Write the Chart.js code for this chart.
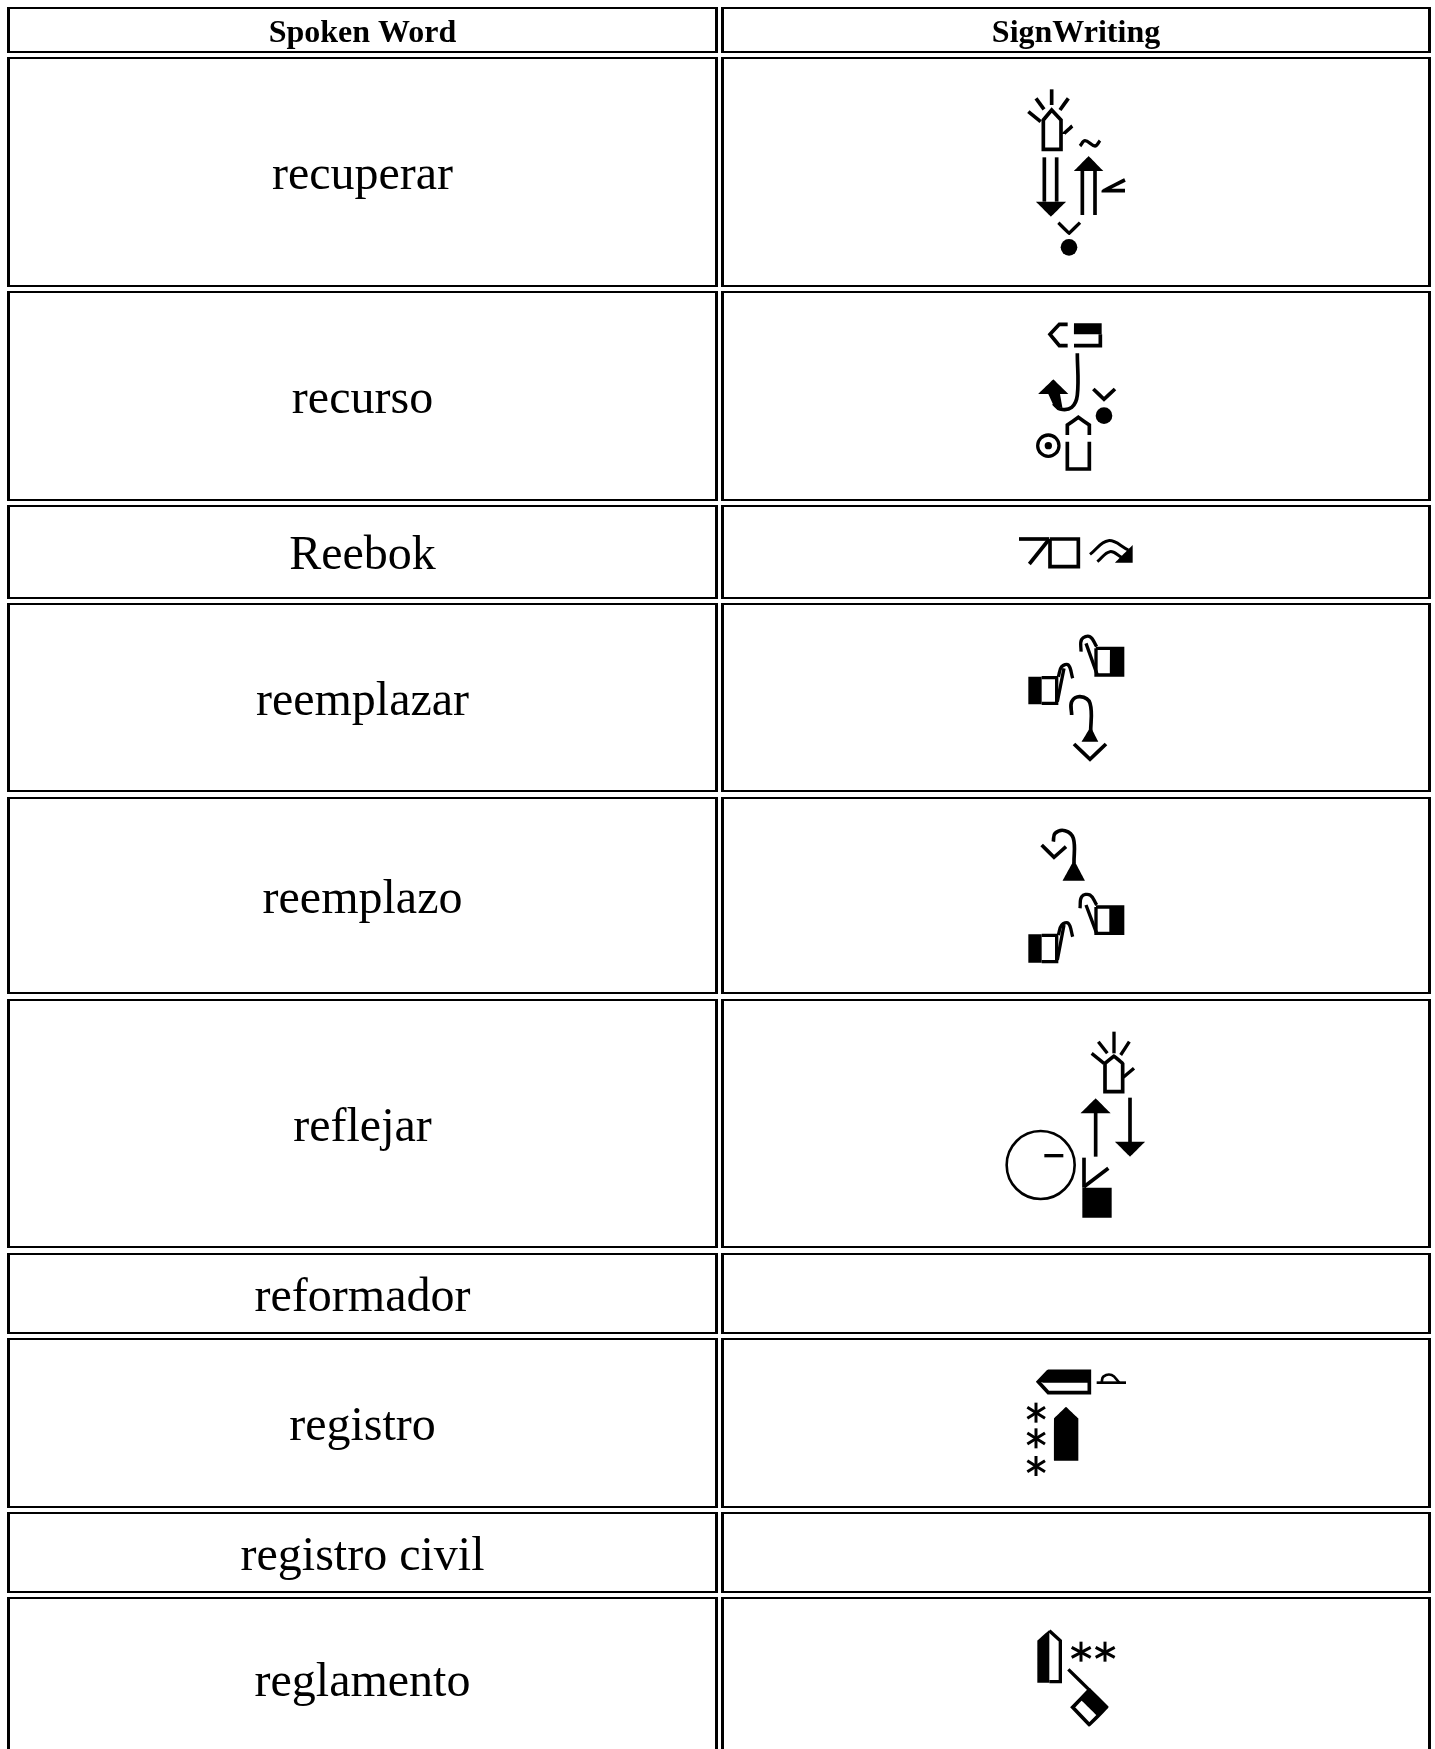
<!DOCTYPE html>
<html>
<head>
<meta charset="utf-8">
<title>SignWriting</title>
<style>
html, body { margin: 0; padding: 0; background: #fff; overflow: hidden; }
canvas { display: block; }
</style>
<script src="https://cdn.jsdelivr.net/npm/chart.js@4"></script>
</head>
<body>
<canvas id="signChart" width="1435" height="1749"></canvas>
<script>
// table content
const headers = ['Spoken Word', 'SignWriting'];
const words = ['recuperar', 'recurso', 'Reebok', 'reemplazar', 'reemplazo', 'reflejar', 'reformador', 'registro', 'registro civil', 'reglamento'];

// table edges (first entry of the rows is the header)
const colLeft = [7, 721];
const colRight = [718, 1431];
const rowTop = [7, 57, 291, 505, 603, 797, 999, 1253, 1338, 1512, 1597];
const rowBottom = [53, 287, 501, 599, 792, 994, 1248, 1334, 1508, 1593, 1800];

// glyph marks are written in thirds of a pixel from an origin, same as the 3x crops
const line = (w, ...pts) => ({ kind: 'line', w, pts });
const curve = (w, ...pts) => ({ kind: 'curve', w, pts });
const solid = (...pts) => ({ kind: 'solid', pts });
const disc = (x, y, r) => ({ kind: 'disc', pts: [x, y], r });
const ring = (x, y, r, w) => ({ kind: 'ring', pts: [x, y], r, w });

const toPoints = (ox, oy, pts) => {
    let out = [];
    for (let i = 0; i < pts.length; i += 2) {
        out.push({ x: ox + pts[i] / 3, y: oy + pts[i + 1] / 3 });
    }
    return out;
};

const signRecuperar = [1000, 70, [
    line(8, 130,238, 130,150, 155,120, 183,150, 183,238, 130,238, 130,150),
    line(8, 155,58, 155,105), line(8, 108,85, 132,118), line(8, 205,85, 180,120),
    line(8, 85,125, 122,155), line(8, 217,168, 190,192),
    curve(7, 240,228, 255,212, 285,228, 300,212),
    line(8, 133,262, 133,395), line(8, 170,262, 170,395), solid(108,395, 198,395, 153,440, 108,395),
    line(8, 247,300, 247,435), line(8, 285,300, 285,435), solid(222,303, 310,303, 266,258, 222,303),
    line(8, 375,330, 310,362, 375,362),
    line(7, 175,458, 207,490, 240,458),
    disc(207,532,25)
]];

const signRecurso = [1000, 310, [
    line(8, 203,43, 178,43, 150,73, 178,107, 203,107),
    solid(222,40, 305,40, 305,73, 222,73, 222,40),
    line(8, 222,107, 301,107, 301,73),
    curve(8, 232,130, 232,255, 215,292, 180,297, 160,280),
    solid(115,252, 160,208, 205,252, 180,252, 188,295, 160,285, 145,252, 115,252),
    line(8, 280,237, 312,268, 345,237),
    disc(312,317,25),
    line(8, 202,375, 202,345, 235,322, 268,345, 268,375),
    line(8, 202,395, 202,477, 268,477, 268,395),
    ring(145,407,32,8),
    disc(145,407,11)
]];

const signReebok = [1000, 520, [
    line(8, 57,57, 148,57), line(8, 148,57, 88,132),
    line(8, 150,57, 235,57, 235,140, 150,140, 150,57),
    curve(6, 270,103, 325,62, 385,90),
    curve(6, 292,125, 330,95, 365,112),
    solid(398,75, 398,128, 345,128, 398,75)
]];

const signReemplazar = [1000, 520, [
    line(7, 288,385, 368,385, 368,465, 288,465, 288,385),
    solid(330,382, 372,382, 372,467, 330,467, 330,382),
    curve(7, 243,395, 245,358, 270,350, 290,380),
    line(7, 258,370, 292,465),
    line(7, 125,473, 170,473, 170,550, 125,550),
    solid(85,470, 125,470, 125,553, 85,553, 85,470),
    line(7, 172,545, 192,445),
    curve(7, 175,470, 185,440, 205,435, 218,475),
    curve(8, 215,585, 215,545, 240,530, 270,550, 272,640),
    solid(245,665, 295,665, 272,620, 245,665),
    line(8, 222,672, 270,718, 318,672)
]];

const signReemplazo = [1000, 810, [
    curve(8, 160,95, 165,70, 195,62, 220,85, 222,160),
    solid(188,212, 255,212, 222,150, 188,212),
    line(8, 125,105, 162,142, 198,110),
    line(7, 288,291, 368,291, 368,370, 288,370, 288,291),
    solid(328,288, 372,288, 372,373, 328,373, 328,288),
    curve(7, 240,295, 245,260, 270,255, 290,285),
    line(7, 258,285, 290,370),
    line(7, 125,376, 170,376, 170,455, 125,455),
    solid(85,373, 125,373, 125,458, 85,458, 85,373),
    curve(7, 175,375, 185,345, 205,340, 218,380),
    line(7, 172,450, 192,345)
]];

const signReflejar = [990, 1020, [
    line(8, 345,215, 345,130, 372,108, 398,130, 398,215, 345,215, 345,130),
    line(7, 372,35, 372,100), line(7, 325,65, 352,100), line(7, 418,65, 392,105),
    line(7, 305,100, 342,130), line(7, 432,145, 400,172),
    line(8, 317,270, 317,410), solid(272,280, 362,280, 317,235, 272,280),
    line(8, 420,233, 420,370), solid(375,365, 465,365, 420,410, 375,365),
    ring(152,435,102,6),
    line(7, 163,407, 220,407),
    line(8, 282,413, 282,503), line(8, 282,500, 355,445),
    solid(277,503, 365,503, 365,593, 277,593, 277,503)
]];

const signRegistro = [1000, 1330, [
    line(8, 115,155, 145,124, 268,124, 268,188, 145,188, 115,155, 145,124),
    solid(145,122, 270,122, 270,158, 130,158, 115,155, 145,122),
    line(5, 290,158, 378,158),
    curve(5, 305,158, 310,140, 335,135, 358,158),
    line(6, 108,218, 108,278), line(6, 82,232, 135,265), line(6, 82,265, 135,232),
    line(6, 108,295, 108,355), line(6, 82,309, 135,342), line(6, 82,342, 135,309),
    line(6, 108,378, 108,438), line(6, 82,392, 135,425), line(6, 82,425, 135,392),
    solid(162,392, 162,265, 198,230, 235,265, 235,392, 162,392)
]];

const signReglamento = [1000, 1620, [
    line(7, 148,32, 181,62, 181,185, 148,185),
    solid(112,188, 112,62, 148,30, 148,188, 112,188),
    line(6, 243,65, 243,125), line(6, 215,82, 272,112), line(6, 215,112, 272,82),
    line(6, 315,65, 315,125), line(6, 287,82, 344,112), line(6, 287,112, 344,82),
    line(7, 205,148, 270,212),
    solid(240,237, 268,208, 322,262, 294,290, 240,237),
    line(8, 218,262, 268,210, 320,262, 268,314, 218,262, 268,210)
]];

const signs = [signRecuperar, signRecurso, signReebok, signReemplazar, signReemplazo, signReflejar, signRegistro, signReglamento];

const INK = '#000';
let datasets = [];

const edge = (x0, y0, x1, y1, w) => ({
    data: [{x:x0,y:y0},{x:x1,y:y1}],
    borderColor: INK, borderWidth: w, pointRadius: 0, fill: false, tension: 0.00001
});

// cell borders, the picture has them 3px wide upright and 2px wide across
rowTop.forEach((top, r) => {
    colLeft.forEach((left, c) => {
        const right = colRight[c], bottom = rowBottom[r];
        datasets.push(edge(left, top + 1, right, top + 1, 2));
        datasets.push(edge(left, bottom - 1, right, bottom - 1, 2));
        datasets.push(edge(left + 1.5, top, left + 1.5, bottom, 3));
        datasets.push(edge(right - 1.5, top, right - 1.5, bottom, 3));
    });
});

// the glyphs
signs.forEach(([ox, oy, marks]) => {
    marks.forEach(m => {
        const data = toPoints(ox, oy, m.pts);
        if (m.kind === 'line' || m.kind === 'curve') {
            datasets.push({
                data, borderColor: INK, borderWidth: m.w / 3 + 1, pointRadius: 0, fill: false,
                tension: m.kind === 'curve' ? 0.4 : 0.00001, borderJoinStyle: 'miter'
            });
        } else if (m.kind === 'solid') {
            datasets.push({
                data, borderWidth: 0, pointRadius: 0, fill: 'shape', backgroundColor: INK,
                tension: 0.00001
            });
        } else {
            datasets.push({
                data, showLine: false,
                pointRadius: m.r / 3, pointStyle: 'circle',
                pointBackgroundColor: m.kind === 'disc' ? INK : 'rgba(0,0,0,0)',
                pointBorderColor: INK, pointBorderWidth: m.kind === 'disc' ? 0 : m.w / 3 + 0.6
            });
        }
    });
});

// words are text in the cells, placed through the scales
const cellText = {
    id: 'cellText',
    afterDatasetsDraw(chart) {
        const { ctx, scales: { x, y } } = chart;
        const put = (text, col, row, size, weight) => {
            const px = x.getPixelForValue((colLeft[col] + colRight[col]) / 2);
            const py = y.getPixelForValue((rowTop[row] + rowBottom[row]) / 2 + 1);
            ctx.font = `${weight} ${size}px "Liberation Serif"`;
            ctx.fillText(text, px, py + size * 0.3375);
        };
        ctx.save();
        ctx.fillStyle = INK;
        ctx.textAlign = 'center';
        ctx.textBaseline = 'alphabetic';
        headers.forEach((h, c) => put(h, c, 0, 32, 'bold'));
        words.forEach((w, i) => {
            if (i === words.length - 1) {
                ctx.font = '48px "Liberation Serif"';
                ctx.fillText(w, x.getPixelForValue(362.5), y.getPixelForValue(1696));
            } else {
                put(w, 0, i + 1, 48, 'normal');
            }
        });
        ctx.restore();
    }
};

new Chart(document.getElementById('signChart').getContext('2d'), {
    type: 'line',
    data: { datasets },
    options: {
        responsive: false,
        animation: false,
        devicePixelRatio: 1,
        events: [],
        layout: { padding: 0, autoPadding: false },
        plugins: { legend: { display: false }, tooltip: { enabled: false } },
        scales: {
            x: { type: 'linear', min: 0, max: 1435, display: false },
            y: { type: 'linear', min: 0, max: 1749, reverse: true, display: false }
        }
    },
    plugins: [cellText]
});
</script>
</body>
</html>
